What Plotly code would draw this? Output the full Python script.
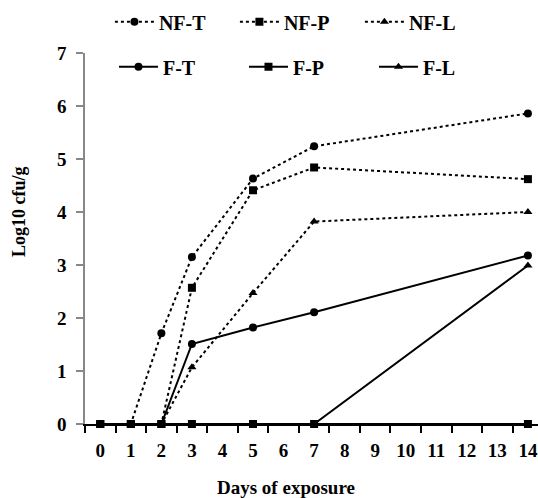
import plotly.graph_objects as go

days = ["0", "1", "2", "3", "5", "7", "14"]
day_labels = [str(i) for i in range(15)]

nf_t = [0, 0, 1.71, 3.15, 4.63, 5.24, 5.86]
nf_p = [0, 0, 0, 2.57, 4.41, 4.84, 4.62]
nf_l = [0, 0, 0, 1.07, 2.47, 3.82, 4.0]
f_t = [0, 0, 0, 1.51, 1.82, 2.11, 3.18]
f_p = [0, 0, 0, 0, 0, 0, 0]
f_l = [0, 0, 0, 0, 0, 0, 2.99]

FONT = "Liberation Serif"

series = [
    ("NF-T", nf_t, "dot", "circle", "legend"),
    ("NF-P", nf_p, "dot", "square", "legend"),
    ("NF-L", nf_l, "dot", "triangle-up", "legend"),
    ("F-T", f_t, "solid", "circle", "legend2"),
    ("F-P", f_p, "solid", "square", "legend2"),
    ("F-L", f_l, "solid", "triangle-up", "legend2"),
]

fig = go.Figure()
for name, vals, dash, sym, leg in series:
    fig.add_trace(go.Scatter(
        x=days, y=vals, name=name, mode="lines+markers",
        line=dict(color="black", width=2, dash=dash),
        marker=dict(symbol=sym, size=8, color="black"),
        cliponaxis=False, legend=leg,
    ))

legend_common = dict(
    orientation="h", xref="paper", yref="paper", xanchor="left", yanchor="middle",
    font=dict(family=FONT, size=20, color="black", weight="bold"),
    bgcolor="rgba(0,0,0,0)", itemwidth=39, tracegroupgap=0,
)

title_font = dict(family=FONT, size=18, color="black", weight="bold")

fig.update_layout(
    width=538, height=498,
    margin=dict(l=85, r=0, t=53, b=74),
    plot_bgcolor="white", paper_bgcolor="white",
    font=dict(family=FONT, color="black"),
    showlegend=True,
    legend=dict(x=0.055, y=1.0844, entrywidth=71, **legend_common),
    legend2=dict(x=0.064, y=0.963, entrywidth=76, **legend_common),
    xaxis=dict(
        type="category", categoryorder="array", categoryarray=day_labels,
        tickvals=day_labels, ticktext=day_labels,
        range=[-0.5, 14.33], tickson="boundaries", automargin=False,
        showgrid=False, zeroline=False,
        showline=True, linecolor="black", linewidth=2,
        ticks="outside", ticklen=7, tickcolor="black", tickwidth=1.5,
        ticklabelstandoff=8,
        tickfont=dict(family=FONT, size=19, color="black", weight="bold"),
    ),
    yaxis=dict(
        range=[0, 7], dtick=1, tick0=0, automargin=False,
        showgrid=False, zeroline=False,
        showline=True, linecolor="#888888", linewidth=1.5,
        ticks="outside", ticklen=7, tickcolor="#888888", tickwidth=1.5,
        ticklabelstandoff=6,
        tickfont=dict(family=FONT, size=19, color="black", weight="bold"),
    ),
    annotations=[
        dict(text="Days of exposure", xref="paper", yref="paper",
             x=0.4437, y=-0.1725, xanchor="center", yanchor="middle",
             showarrow=False, font=dict(family=FONT, size=19, color="black", weight="bold")),
        dict(text="Log10 cfu/g", xref="paper", yref="paper", textangle=-90,
             x=-0.1457, y=0.574, xanchor="center", yanchor="middle",
             showarrow=False, font=title_font),
    ],
)

fig.write_html("out.html", config={"displayModeBar": False},
               post_script="document.body.style.margin='0';")
